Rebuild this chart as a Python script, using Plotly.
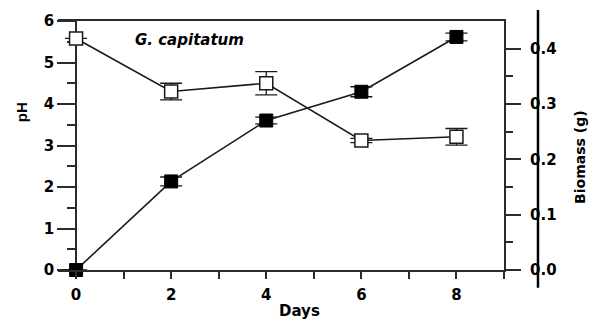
import plotly.graph_objects as go

# Culture time course: pH (open squares, left axis) and biomass (filled squares, right axis)
days = [0, 2, 4, 6, 8]
ph_values = [5.58, 4.30, 4.50, 3.12, 3.21]
ph_errors = [0.0, 0.20, 0.28, 0.05, 0.20]
biomass_values = [0.0, 0.16, 0.27, 0.322, 0.421]
biomass_errors = [0.0, 0.008, 0.006, 0.009, 0.007]

x_tick_vals = [0, 2, 4, 6, 8]
ph_tick_vals = [0, 1, 2, 3, 4, 5, 6]
biomass_tick_vals = [0.0, 0.1, 0.2, 0.3, 0.4]

FONT = "DejaVu Sans, Verdana, sans-serif"
NARROW = "Liberation Sans, Arial, sans-serif"
INK = "#1a1a1a"
AXIS = "#2b2b2b"

fig = go.Figure()

fig.add_trace(go.Scatter(
    x=days, y=ph_values, mode="lines+markers", name="pH",
    line=dict(color=INK, width=1.6),
    marker=dict(symbol="square", size=13, color="white",
                line=dict(color=INK, width=1.5)),
    error_y=dict(type="data", array=ph_errors, visible=True,
                 color=INK, thickness=1.3, width=11),
    cliponaxis=False, yaxis="y",
))

fig.add_trace(go.Scatter(
    x=days, y=biomass_values, mode="lines+markers", name="Biomass",
    line=dict(color=INK, width=1.6),
    marker=dict(symbol="square", size=13, color="black",
                line=dict(color="black", width=1)),
    error_y=dict(type="data", array=biomass_errors, visible=True,
                 color=INK, thickness=1.3, width=11),
    cliponaxis=False, yaxis="y2",
))

x_range = [-0.38, 9]
y_axis_pos = (0 - x_range[0]) / (x_range[1] - x_range[0])

tick_font = dict(family=FONT, size=15, color="black", weight="bold")

fig.update_layout(
    width=594, height=324,
    margin=dict(l=58, r=90, t=19, b=54),
    paper_bgcolor="white", plot_bgcolor="white",
    showlegend=False,
    xaxis=dict(
        range=x_range, showgrid=False, zeroline=False,
        showline=True, linecolor=AXIS, linewidth=2, mirror=True,
        tickvals=x_tick_vals, ticks="outside", ticklen=7, tickwidth=2,
        tickcolor=AXIS, tickfont=tick_font, ticklabelstandoff=3,
        minor=dict(dtick=1, tick0=0, ticks="outside", ticklen=7,
                   tickwidth=2, tickcolor=AXIS, showgrid=False),
    ),
    yaxis=dict(
        range=[0, 6], showgrid=False, zeroline=False,
        anchor="free", position=y_axis_pos, layer="below traces",
        showline=True, linecolor=AXIS, linewidth=2,
        tickvals=ph_tick_vals, ticks="outside", ticklen=18, tickwidth=2,
        tickcolor=AXIS, tickfont=tick_font,
        minor=dict(dtick=0.5, tick0=0, ticks="outside", ticklen=8,
                   tickwidth=2, tickcolor=AXIS, showgrid=False),
    ),
    yaxis2=dict(
        range=[0, 0.4498], overlaying="y", side="right", anchor="x",
        showgrid=False, zeroline=False,
        showline=True, linecolor=AXIS, linewidth=2,
        tickvals=biomass_tick_vals, tickformat=".1f",
        ticks="outside", ticklen=15, tickwidth=2, tickcolor=AXIS,
        tickfont=tick_font, ticklabelstandoff=6,
        minor=dict(dtick=0.05, tick0=0, ticks="outside", ticklen=7,
                   tickwidth=2, tickcolor=AXIS, showgrid=False),
    ),
    shapes=[
        # free-standing vertical rule for the biomass scale
        dict(type="line", xref="paper", yref="paper",
             x0=1.0762, x1=1.0762, y0=-0.0717, y1=1.0438,
             line=dict(color="black", width=2.5)),
    ],
    annotations=[
        dict(text="G. capitatum", xref="paper", yref="paper",
             x=(133 - 58) / 446, y=0.925, showarrow=False,
             xanchor="left", yanchor="middle",
             font=dict(family=FONT, size=15, color="black", weight="bold",
                       style="italic")),
        dict(text="Days", xref="paper", yref="paper",
             x=0.5426, y=-0.163, showarrow=False, xanchor="center", yanchor="middle",
             font=dict(family=FONT, size=15, color="black", weight="bold")),
        dict(text="pH", xref="paper", yref="paper",
             x=(21 - 58) / 446, y=(270 - 111) / 251, showarrow=False,
             xanchor="center", yanchor="middle", textangle=-90,
             font=dict(family=NARROW, size=15, color="black", weight="bold")),
        dict(text="Biomass (g)", xref="paper", yref="paper",
             x=(580 - 58) / 446, y=(270 - 157) / 251, showarrow=False,
             xanchor="center", yanchor="middle", textangle=-90,
             font=dict(family=FONT, size=14, color="black", weight="bold")),
    ],
)

fig.write_html("out.html")
